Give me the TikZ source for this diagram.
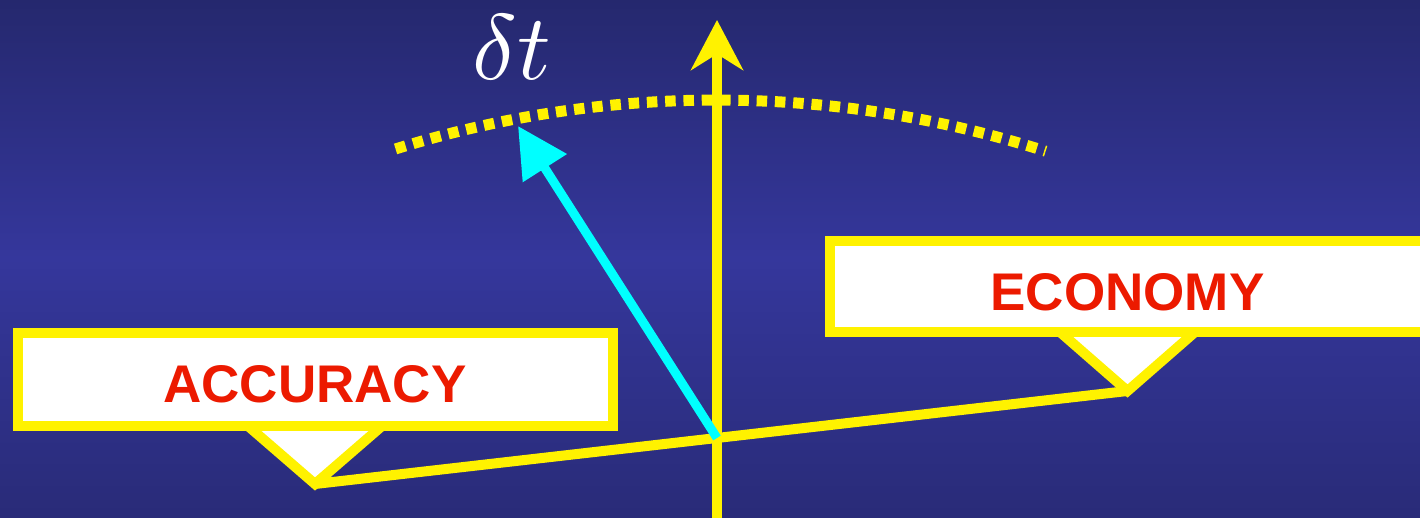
\documentclass[tikz,border=0pt]{standalone}
\usepackage{fontspec}
\setsansfont{Liberation Sans}
\usetikzlibrary{arrows.meta}
\definecolor{bgtop}{RGB}{37,40,110}
\definecolor{bgmid}{RGB}{53,55,156}
\definecolor{bgbot}{RGB}{41,43,120}
\definecolor{accred}{RGB}{236,26,0}
\definecolor{dtcyan}{RGB}{0,255,255}
\begin{document}
\begin{tikzpicture}[x=1pt, y=1pt,
  callout/.style={draw=yellow, line width=10pt, fill=white, inner sep=0pt, outer sep=0pt,
    minimum width=595pt, anchor=south, text=accred,
    font=\sffamily\bfseries\fontsize{53}{60}\selectfont, text height=47pt, text depth=0pt},
  pointer/.style={draw=yellow, line width=10pt, fill=white},
  axisline/.style={draw=yellow, line width=10pt}]
\shade[top color=bgtop, bottom color=bgmid] (0,260) rectangle (1420,518);
\shade[top color=bgmid, bottom color=bgbot] (0,0) rectangle (1420,260.5);
\useasboundingbox (0,0) rectangle (1420,518);
\coordinate (accTip) at (315,34);
\coordinate (ecoTip) at (1127.5,127);
\coordinate (axisBot) at (717,-5);
\coordinate (axisTop) at (717,498);
\coordinate (dtTip) at (518,392);
\coordinate (o) at (intersection of accTip--ecoTip and axisBot--axisTop);
\draw[yellow, line width=11pt, dash pattern=on 10.5pt off 7.8pt] (717,-663) ++(107.3:1081) arc[start angle=107.3, end angle=72.3, radius=1081];
\draw[axisline] (accTip) -- (ecoTip);
\draw[axisline, -{Stealth[length=50pt, width=52pt, inset=16pt]}] (axisBot) -- (axisTop);
\draw[pointer] (accTip) ++(-67,58) -- (accTip) -- ++(67,58);
\draw[pointer] (ecoTip) ++(-67,58.5) -- (ecoTip) -- ++(67,58.5);
\node[callout, minimum height=93pt] (acc) at ([yshift=58pt]accTip) {ACCURACY};
\node[callout, minimum height=91pt] (eco) at ([yshift=58.5pt]ecoTip) {ECONOMY};
\draw[dtcyan, line width=9pt, -{Triangle[length=50pt, width=50pt]}] (o) -- (dtTip);
\node[white, scale=9.3] (dt) at (512,471) {$\delta t$};
\end{tikzpicture}
\end{document}
